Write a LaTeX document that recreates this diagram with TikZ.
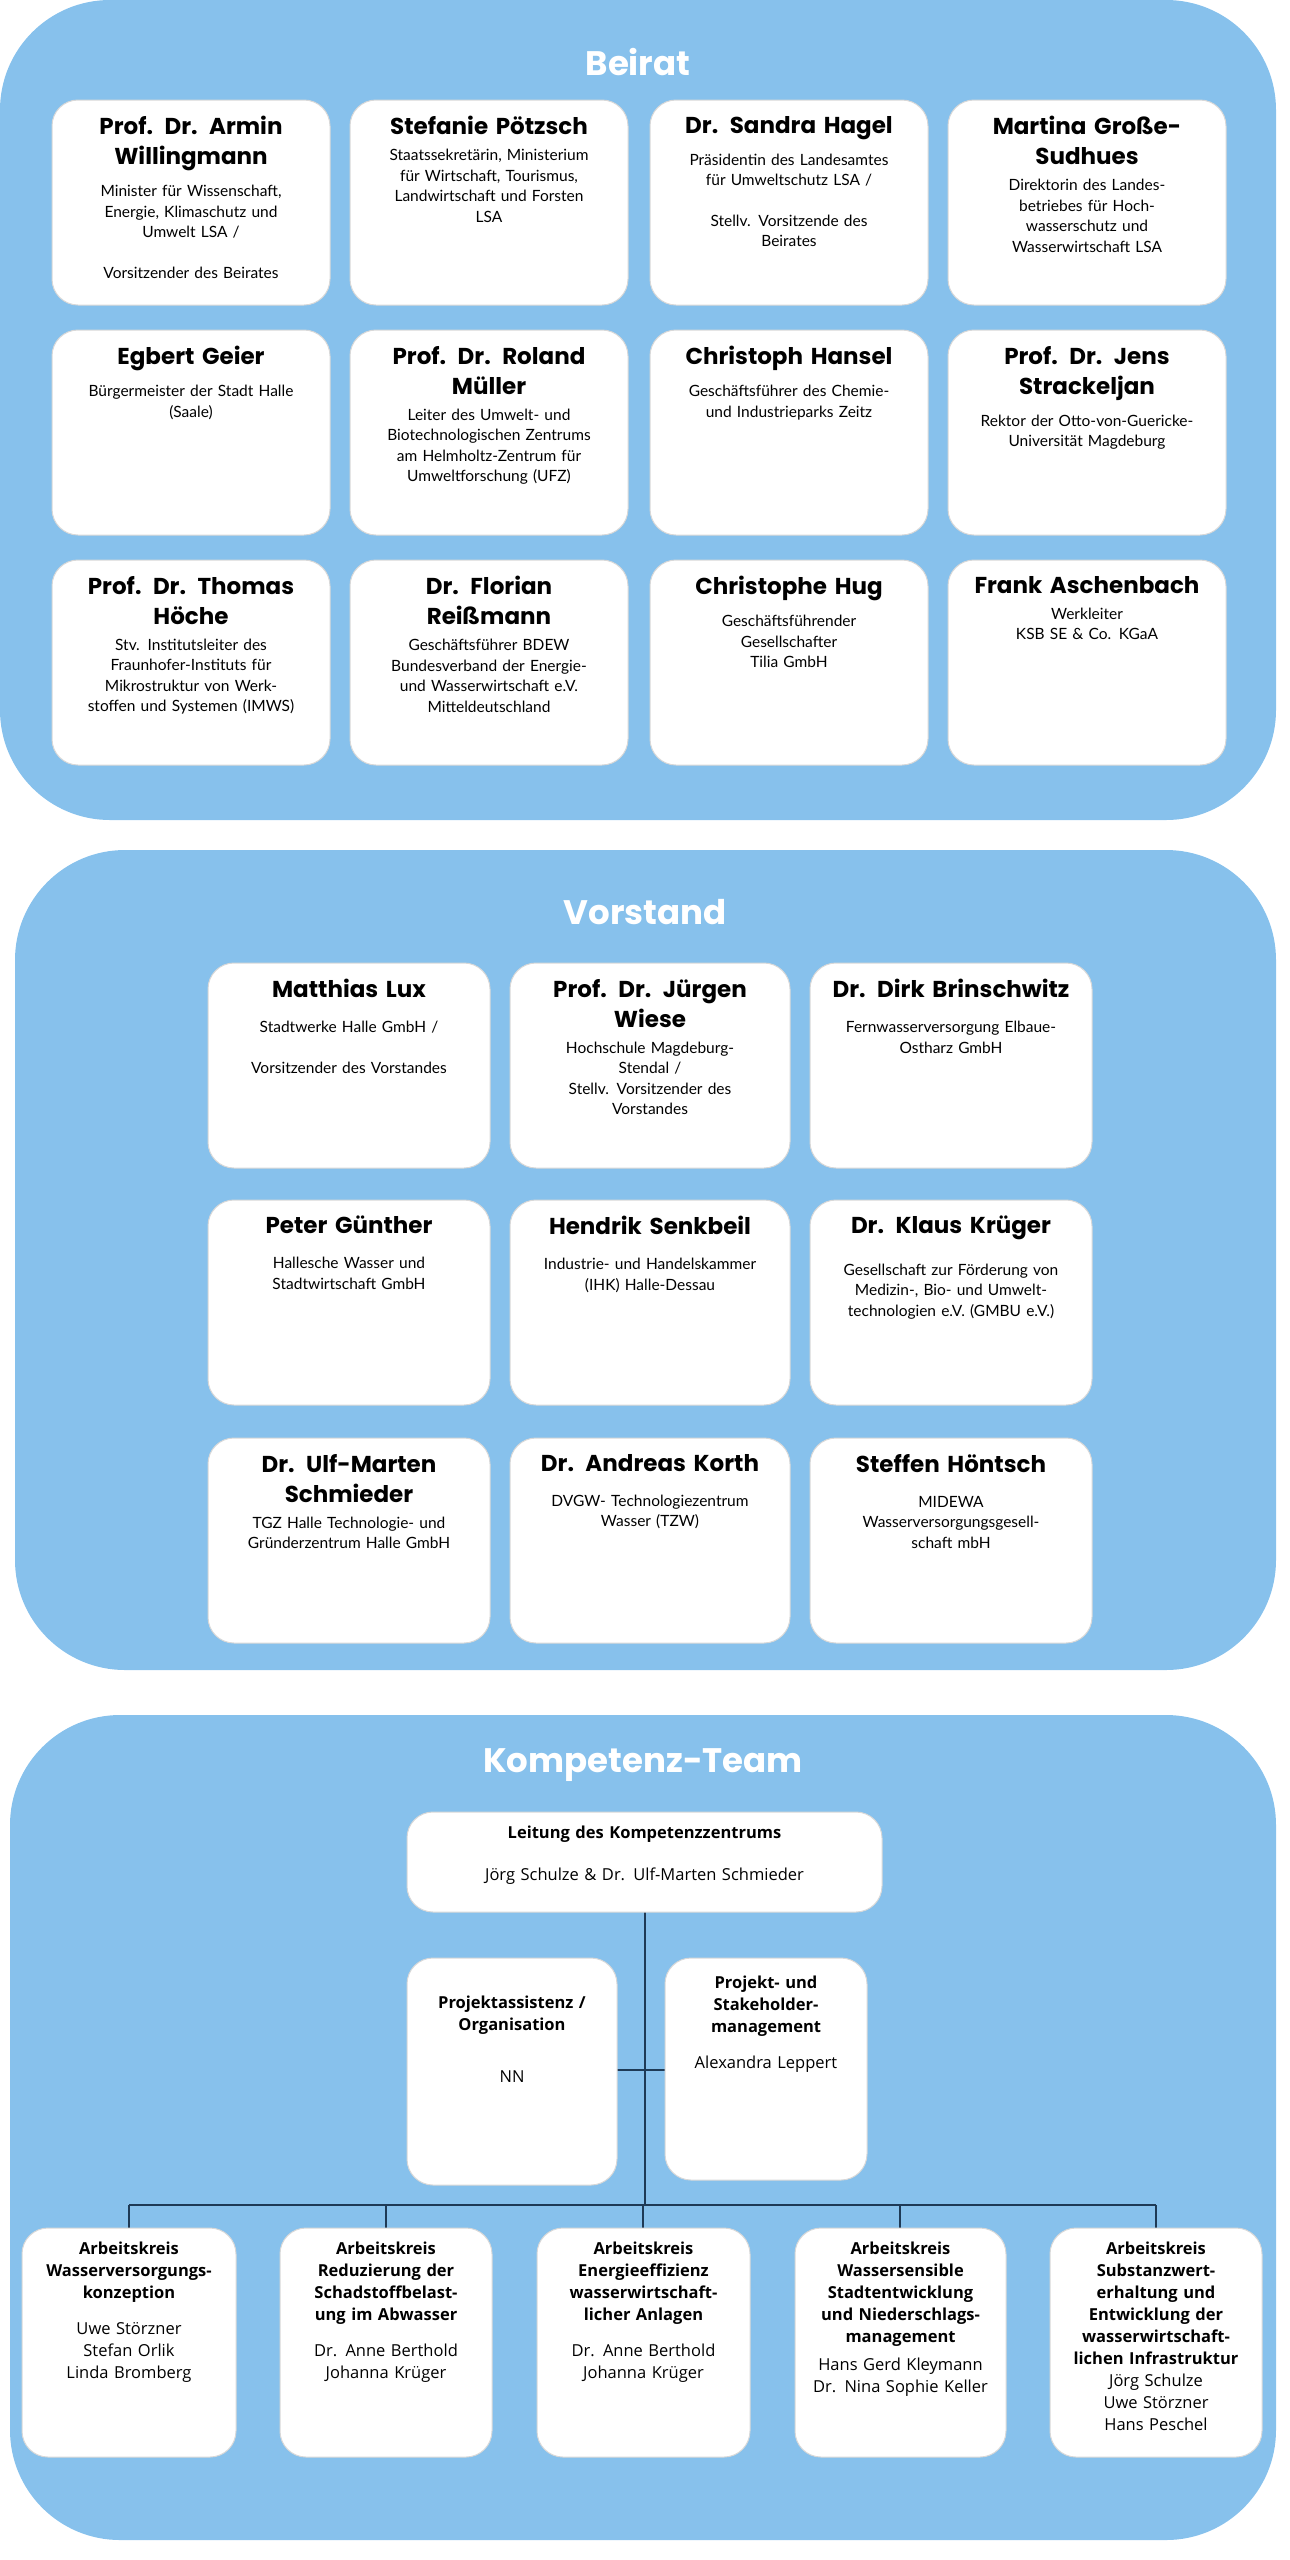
\documentclass[tikz,border=0pt]{standalone}
\usepackage{fontspec}
\setmainfont{Poppins}
\newfontfamily\bodyf{Lato}
\newfontfamily\ktf{Open Sans}
\definecolor{panel}{HTML}{87C1EC}
\definecolor{bord}{HTML}{D8D8D8}
\definecolor{navy}{HTML}{1E3A56}
\tikzset{
 panelbox/.style={fill=panel,rounded corners=110pt},
 card/.style={fill=white,draw=bord,line width=1pt,rounded corners=26pt},
 cardtext/.style={anchor=north,align=center,inner sep=0pt},
 ptitle/.style={font=\fontsize{34}{40}\selectfont\bfseries,text=white},
 conn/.style={draw=navy,line width=2.2pt},
}
\newcommand\blankln{\mbox{}\\}
% #1 name, #2 x0, #3 y0, #4 width, #5 height, #6 title, #7 body
\newcommand\mycard[7]{%
 \draw[card] (#2,#3) rectangle ++(#4,#5);
 \coordinate (#1) at ({#2+#4/2},{#3+#5/2});
 \node[cardtext,text width=#4 pt-20pt,font=\fontsize{23}{30}\selectfont\bfseries] (#1t) at ({#2+#4/2},{#3+16}) {#6};
 \node[cardtext,text width=#4 pt-20pt,font=\bodyf\fontsize{15.5}{20.5}\selectfont] (#1b) at ([yshift=-14pt]#1t.south) {#7};}
\newcommand\ktcard[7]{%
 \draw[card] (#2,#3) rectangle ++(#4,#5);
 \coordinate (#1) at ({#2+#4/2},{#3+#5/2});
 \node[cardtext,text width=#4 pt-14pt,font=\ktf\fontsize{16.5}{22}\selectfont] (#1t) at ({#2+#4/2},{#3+14}) {#7};}
\begin{document}
\begin{tikzpicture}[x=1pt,y=-1pt]
\useasboundingbox (0,0) rectangle (1290,2560);
% Beirat
\fill[panelbox] (0,0) rectangle (1276,820);
\node[ptitle] (beirat) at (638,62) {Beirat};
\mycard{b1}{52}{100}{278}{205}{Prof. Dr. Armin\\Willingmann}{Minister für Wissenschaft,\\Energie, Klimaschutz und\\Umwelt LSA /\\[20pt]Vorsitzender des Beirates}
\mycard{b2}{350}{100}{278}{205}{Stefanie Pötzsch}{Staatssekretärin, Ministerium\\für Wirtschaft, Tourismus,\\Landwirtschaft und Forsten\\LSA}
\mycard{b3}{650}{100}{278}{205}{Dr. Sandra Hagel}{Präsidentin des Landesamtes\\für Umweltschutz LSA /\\[20pt]Stellv. Vorsitzende des\\Beirates}
\mycard{b4}{948}{100}{278}{205}{Martina Große-\\Sudhues}{Direktorin des Landes-\\betriebes für Hoch-\\wasserschutz und\\Wasserwirtschaft LSA}
\mycard{b5}{52}{330}{278}{205}{Egbert Geier}{Bürgermeister der Stadt Halle\\(Saale)}
\mycard{b6}{350}{330}{278}{205}{Prof. Dr. Roland\\Müller}{Leiter des Umwelt- und\\Biotechnologischen Zentrums\\am Helmholtz-Zentrum für\\Umweltforschung (UFZ)}
\mycard{b7}{650}{330}{278}{205}{Christoph Hansel}{Geschäftsführer des Chemie-\\und Industrieparks Zeitz}
\mycard{b8}{948}{330}{278}{205}{Prof. Dr. Jens\\Strackeljan}{Rektor der Otto-von-Guericke-\\Universität Magdeburg}
\mycard{b9}{52}{560}{278}{205}{Prof. Dr. Thomas\\Höche}{Stv. Institutsleiter des\\Fraunhofer-Instituts für\\Mikrostruktur von Werk-\\stoffen und Systemen (IMWS)}
\mycard{b10}{350}{560}{278}{205}{Dr. Florian\\Reißmann}{Geschäftsführer BDEW\\Bundesverband der Energie-\\und Wasserwirtschaft e.V.\\Mitteldeutschland}
\mycard{b11}{650}{560}{278}{205}{Christophe Hug}{Geschäftsführender\\Gesellschafter\\Tilia GmbH}
\mycard{b12}{948}{560}{278}{205}{Frank Aschenbach}{Werkleiter\\KSB SE \& Co. KGaA}
% Vorstand
\fill[panelbox] (15,850) rectangle (1276,1670);
\node[ptitle] (vorstand) at (645,912) {Vorstand};
\mycard{v1}{208}{963}{282}{205}{Matthias Lux}{\blankln Stadtwerke Halle GmbH /\\[20pt]Vorsitzender des Vorstandes}
\mycard{v2}{510}{963}{280}{205}{Prof. Dr. Jürgen\\Wiese}{Hochschule Magdeburg-\\Stendal /\\Stellv. Vorsitzender des\\Vorstandes}
\mycard{v3}{810}{963}{282}{205}{Dr. Dirk Brinschwitz}{\blankln Fernwasserversorgung Elbaue-\\Ostharz GmbH}
\mycard{v4}{208}{1200}{282}{205}{Peter Günther}{\blankln Hallesche Wasser und\\Stadtwirtschaft GmbH}
\mycard{v5}{510}{1200}{280}{205}{Hendrik Senkbeil}{\blankln Industrie- und Handelskammer\\(IHK) Halle-Dessau}
\mycard{v6}{810}{1200}{282}{205}{Dr. Klaus Krüger}{\blankln Gesellschaft zur Förderung von\\Medizin-, Bio- und Umwelt-\\technologien e.V. (GMBU e.V.)}
\mycard{v7}{208}{1438}{282}{205}{Dr. Ulf-Marten\\Schmieder}{TGZ Halle Technologie- und\\Gründerzentrum Halle GmbH}
\mycard{v8}{510}{1438}{280}{205}{Dr. Andreas Korth}{\blankln DVGW- Technologiezentrum\\Wasser (TZW)}
\mycard{v9}{810}{1438}{282}{205}{Steffen Höntsch}{\blankln MIDEWA\\Wasserversorgungsgesell-\\schaft mbH}
% Kompetenz-Team
\fill[panelbox] (10,1715) rectangle (1276,2540);
\node[ptitle] (kt) at (643,1765) {Kompetenz-Team};
\coordinate (hl) at (645,2205);
\draw[conn] (645,1912) -- (hl);
\draw[conn] (129,2205) -- (1156,2205);
\foreach \x in {129,386,643,900,1156} \draw[conn] (\x,2205) -- (\x,2228);
\draw[conn] (617,2070) -- (665,2070);
\ktcard{lt}{407}{1812}{475}{100}{}{\textbf{Leitung des Kompetenzzentrums}\\[20pt]Jörg Schulze \& Dr. Ulf-Marten Schmieder}
\ktcard{k1}{407}{1958}{210}{227}{}{\blankln[14pt]\textbf{Projektassistenz /}\\\textbf{Organisation}\\[30pt]NN}
\ktcard{k2}{665}{1958}{202}{222}{}{\blankln[-6pt]\textbf{Projekt- und}\\\textbf{Stakeholder-}\\\textbf{management}\\[14pt]Alexandra Leppert}
\ktcard{a1}{22}{2228}{214}{229}{}{\textbf{Arbeitskreis}\\\textbf{Wasserversorgungs-}\\\textbf{konzeption}\\[14pt]Uwe Störzner\\Stefan Orlik\\Linda Bromberg}
\ktcard{a2}{280}{2228}{212}{229}{}{\textbf{Arbeitskreis}\\\textbf{Reduzierung der}\\\textbf{Schadstoffbelast-}\\\textbf{ung im Abwasser}\\[14pt]Dr. Anne Berthold\\Johanna Krüger}
\ktcard{a3}{537}{2228}{213}{229}{}{\textbf{Arbeitskreis}\\\textbf{Energieeffizienz}\\\textbf{wasserwirtschaft-}\\\textbf{licher Anlagen}\\[14pt]Dr. Anne Berthold\\Johanna Krüger}
\ktcard{a4}{795}{2228}{211}{229}{}{\textbf{Arbeitskreis}\\\textbf{Wassersensible}\\\textbf{Stadtentwicklung}\\\textbf{und Niederschlags-}\\\textbf{management}\\[6pt]Hans Gerd Kleymann\\Dr. Nina Sophie Keller}
\ktcard{a5}{1050}{2228}{212}{229}{}{\textbf{Arbeitskreis}\\\textbf{Substanzwert-}\\\textbf{erhaltung und}\\\textbf{Entwicklung der}\\\textbf{wasserwirtschaft-}\\\textbf{lichen Infrastruktur}\\Jörg Schulze\\Uwe Störzner\\Hans Peschel}
\end{tikzpicture}
\end{document}
